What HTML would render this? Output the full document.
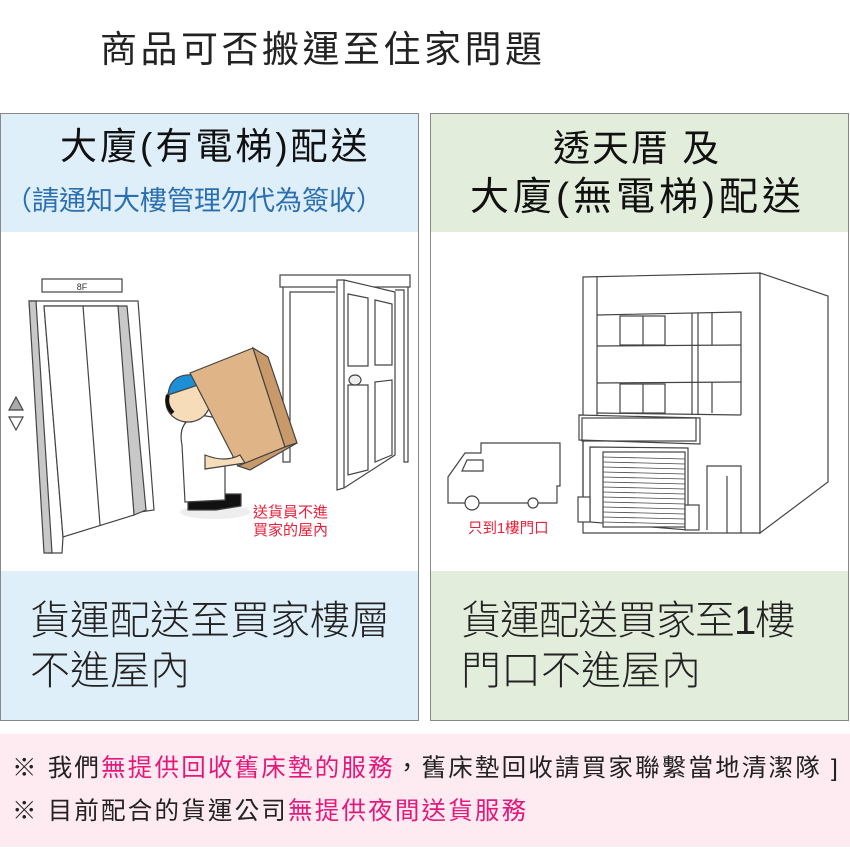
<!DOCTYPE html>
<html><head><meta charset="utf-8"><style>
body{margin:0;width:850px;height:850px;background:#fff;position:relative;overflow:hidden;font-family:"Liberation Sans","Noto Sans CJK TC",sans-serif;}
.a{position:absolute;white-space:nowrap;}
.box{position:absolute;border:1px solid #888;box-sizing:border-box;}
.t{color:#222;}
</style></head><body>
<div class="a t" style="left:100px;top:27px;font-size:37px;line-height:46px;letter-spacing:3.5px;">商品可否搬運至住家問題</div>

<div class="box" style="left:0;top:113px;width:419px;height:608px;background:#fff;"></div>
<div class="a" style="left:1px;top:114px;width:417px;height:118px;background:#dfeff9;"></div>
<div class="a" style="left:1px;top:571px;width:417px;height:149px;background:#dfeff9;"></div>
<div class="box" style="left:430px;top:113px;width:419px;height:608px;background:#fff;"></div>
<div class="a" style="left:431px;top:114px;width:417px;height:118px;background:#e3eddb;"></div>
<div class="a" style="left:431px;top:571px;width:417px;height:149px;background:#e3eddb;"></div>

<div class="a t" style="left:60px;top:124px;font-size:37px;line-height:46px;letter-spacing:3px;color:#111;">大廈(有電梯)配送</div>
<div class="a" style="left:5px;top:183px;font-size:27px;line-height:36px;color:#2c6fb0;">（請通知大樓管理勿代為簽收）</div>
<div class="a t" style="left:553px;top:126px;font-size:37px;line-height:46px;letter-spacing:2px;color:#111;">透天厝 及</div>
<div class="a t" style="left:470px;top:174px;font-size:39px;line-height:48px;letter-spacing:4px;color:#111;">大廈(無電梯)配送</div>

<div class="a t" style="left:30px;top:596px;font-size:40px;line-height:50px;font-weight:300;">貨運配送至買家樓層</div>
<div class="a t" style="left:30px;top:646px;font-size:40px;line-height:50px;font-weight:300;">不進屋內</div>
<div class="a t" style="left:461px;top:596px;font-size:40px;line-height:50px;font-weight:300;letter-spacing:-1px;">貨運配送買家至<span style="font-weight:normal;font-family:'Liberation Sans Narrow','Liberation Sans',sans-serif">1</span>樓</div>
<div class="a t" style="left:461px;top:646px;font-size:40px;line-height:50px;font-weight:300;">門口不進屋內</div>

<div class="a" style="left:0;top:734px;width:850px;height:113px;background:#fdebf1;"></div>
<div class="a t" style="left:12px;top:752px;font-size:24.5px;line-height:34px;letter-spacing:2.2px;">※ 我們<span style="color:#e6177a">無提供回收舊床墊的服務</span>，舊床墊回收請買家聯繫當地清潔隊 ]</div>
<div class="a t" style="left:12px;top:795px;font-size:24.5px;line-height:34px;letter-spacing:2.2px;">※ 目前配合的貨運公司<span style="color:#e6177a">無提供夜間送貨服務</span></div>

<svg class="a" style="left:0;top:0" width="850" height="850" viewBox="0 0 850 850">
<g fill="none" stroke="#444" stroke-width="1.2">
<rect x="42" y="279" width="80" height="13" fill="#fff"/>
<polygon points="29,301 138,301 154,510 140,512 118,306 44,306 63,537 62,553 49,553" fill="#fff"/>
<polygon points="29,301 36,301 52,553 44,553" fill="#c8c8c8"/>
<polygon points="116,306 127,306 146,510 134,515" fill="#c8c8c8"/>
<polygon points="44,306 118,306 134,515 63,537" fill="#fff"/>
<line x1="83" y1="306" x2="100" y2="525"/>
<polygon points="16,397 23,410 9,410" fill="#aaa"/>
<polygon points="9,417 23,417 16,430" fill="#fff"/>
<rect x="280" y="275" width="130" height="12" fill="#fff"/>
<polyline points="283,287 283,462 290,462 290,292 335,292"/>
<polyline points="395,290 404,290 404,462 408,462 408,287"/>
<polygon points="337,280 344,280 395,292 395,455 344,488 337,490" fill="#fff"/>
<line x1="344" y1="280" x2="344" y2="488"/>
<polygon points="348,294 368,298 368,366 348,366"/>
<polygon points="375,300 392,304 392,365 375,365"/>
<polygon points="348,385 368,385 368,470 348,475"/>
<polygon points="375,382 392,380 392,455 375,462"/>
<ellipse cx="355" cy="380" rx="6" ry="5" fill="#eee"/>
<ellipse cx="215" cy="512" rx="35" ry="7" fill="#eee" stroke="none"/>
<path d="M188,500 l0,-10 25,-2 8,6 20,0 0,12 -25,4 -28,0z" fill="#111"/>
<path d="M182,445 q-5,-25 18,-30 l30,5 10,30 -15,15 0,35 -40,2z" fill="#fff"/>
<ellipse cx="188" cy="402" rx="22" ry="20" fill="#f6dcb8"/>
<path d="M168,395 q2,-22 26,-20 l10,8 -30,10z" fill="#1d8fd6"/>
<path d="M168,395 q-3,10 5,18" stroke="#111" stroke-width="4"/>
<polygon points="190,373 253,348 285,447 238,466" fill="#dfb587"/>
<polygon points="253,348 268,357 297,443 285,447" fill="#c9996a"/>
<polygon points="238,466 285,447 297,443 250,470" fill="#c9996a"/>
<path d="M205,455 q20,8 35,0 l5,8 -40,6z" fill="#f6dcb8"/>
<polygon points="583,277 760,273 760,533 583,533" fill="#fff"/>
<polygon points="760,273 828,296 828,482 760,533" fill="#fff"/>
<line x1="597" y1="277" x2="597" y2="416"/>
<polyline points="597,315 741,312 741,415"/>
<line x1="597" y1="346" x2="741" y2="345"/>
<line x1="597" y1="383" x2="741" y2="382"/>
<line x1="597" y1="413" x2="741" y2="415"/>
<line x1="692" y1="313" x2="692" y2="415"/>
<line x1="698" y1="313" x2="698" y2="415"/>
<rect x="620" y="316" width="45" height="29"/>
<rect x="620" y="384" width="45" height="29"/>
<line x1="643" y1="316" x2="643" y2="345"/><line x1="643" y1="384" x2="643" y2="413"/>
<line x1="712" y1="313" x2="712" y2="345"/><line x1="712" y1="382" x2="712" y2="413"/>
<polygon points="579,415 700,418 700,444 579,440" fill="#fff"/>
<rect x="582" y="418" width="114" height="23"/>
<polyline points="583,440 583,520 590,522"/>
<polygon points="590,447 688,448 688,530 590,522"/>
<rect x="603" y="452" width="82" height="75" fill="#fff"/>
<g stroke-width="0.8">
<line x1="603" y1="457" x2="685" y2="459"/><line x1="603" y1="462" x2="685" y2="464"/><line x1="603" y1="467" x2="685" y2="469"/><line x1="603" y1="472" x2="685" y2="474"/><line x1="603" y1="477" x2="685" y2="479"/><line x1="603" y1="482" x2="685" y2="484"/><line x1="603" y1="487" x2="685" y2="489"/><line x1="603" y1="492" x2="685" y2="494"/><line x1="603" y1="497" x2="685" y2="499"/><line x1="603" y1="502" x2="685" y2="504"/><line x1="603" y1="507" x2="685" y2="509"/><line x1="603" y1="512" x2="685" y2="514"/><line x1="603" y1="517" x2="685" y2="519"/><line x1="603" y1="522" x2="685" y2="524"/></g>
<rect x="578" y="497" width="12" height="25" fill="#fff"/>
<rect x="685" y="505" width="14" height="25" fill="#fff"/>
<polyline points="707,530 707,466 741,466 741,533"/>
<line x1="727" y1="476" x2="727" y2="533"/>
<path d="M481,453 L481,443 L560,443 L560,486 L557,486 L557,503 L448,503 L448,477 L465,453 Z" fill="#fff"/>
<polygon points="462,471 467,460 483,460 483,471"/>
<circle cx="472" cy="503" r="7" fill="#fff"/>
<circle cx="533" cy="503" r="5" fill="#fff"/>
</g>
<text x="253" y="517" font-size="15" fill="#e8203a" font-family="Noto Sans CJK TC,sans-serif">送貨員不進</text>
<text x="253" y="535" font-size="15" fill="#e8203a" font-family="Noto Sans CJK TC,sans-serif">買家的屋內</text>
<text x="468" y="533" font-size="14.5" fill="#e8203a" font-family="Liberation Sans,Noto Sans CJK TC,sans-serif">只到1樓門口</text>
<text x="82" y="290" font-size="9" fill="#333" text-anchor="middle" font-family="Liberation Sans,sans-serif">8F</text>
</svg>
</body></html>
